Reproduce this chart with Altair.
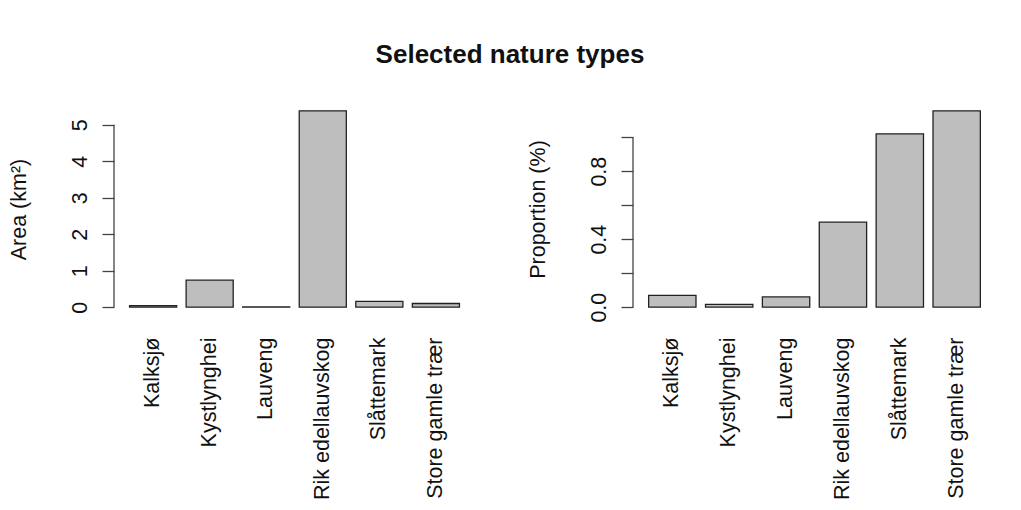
import altair as alt
import pandas as pd

categories = ["Kalksjø", "Kystlynghei", "Lauveng", "Rik edellauvskog", "Slåttemark", "Store gamle trær"]
area_km2 = [0.04, 0.74, 0.005, 5.38, 0.16, 0.10]
proportion_pct = [0.069, 0.016, 0.06, 0.50, 1.02, 1.155]
area_ticks = [0, 1, 2, 3, 4, 5]
prop_ticks = [0.0, 0.2, 0.4, 0.6, 0.8, 1.0]

df_area = pd.DataFrame({"cat": categories, "value": area_km2})
df_prop = pd.DataFrame({"cat": categories, "value": proportion_pct})

FONT = "Liberation Sans"
FS = 21.5
H = 212


def panel(df, width, domain, ticks, ytitle, label_expr, fmt):
    x = alt.X("cat:N", sort=categories, title=None,
              scale=alt.Scale(paddingInner=0.1675, paddingOuter=0.275),
              axis=alt.Axis(labelAngle=270, ticks=False, domain=False, tickSize=0,
                            labelPadding=22, labelFontSize=FS, labelFont=FONT,
                            labelColor="#111", labelAlign="right", labelBaseline="middle"))
    y = alt.Y("value:Q", title=ytitle,
              scale=alt.Scale(domain=domain, nice=False, zero=False),
              axis=alt.Axis(values=ticks, domain=False, grid=False, tickSize=12,
                            tickColor="#444", tickWidth=1.3,
                            labelAngle=270, labelAlign="center", labelBaseline="alphabetic",
                            labelPadding=16, labelFontSize=FS, labelFont=FONT, labelColor="#111",
                            labelExpr=label_expr, format=fmt,
                            titleFont=FONT, titleFontSize=FS, titleFontWeight="normal",
                            titleColor="#111", titleAngle=270, titleBaseline="alphabetic",
                            titleAlign="center", titleX=-89, titleY=H / 2))
    bars = alt.Chart(df).mark_bar(fill="#bebebe", stroke="#222", strokeWidth=1.3).encode(x=x, y=y)
    axis_line = alt.Chart(pd.DataFrame({"lo": [ticks[0]], "hi": [ticks[-1]]})).mark_rule(
        color="#444", strokeWidth=1.3).encode(
        x=alt.value(0),
        y=alt.Y("lo:Q", scale=alt.Scale(domain=domain, nice=False, zero=False)),
        y2="hi:Q")
    return alt.layer(bars, axis_line).properties(width=width, height=H)


left = panel(df_area, 361, [-0.215, 5.595], area_ticks, "Area (km²)", "datum.label", "d")
right = panel(df_prop, 363, [-0.0462, 1.2012], prop_ticks, "Proportion (%)",
              "(abs(datum.value - 0.2) < 0.01 || abs(datum.value - 0.6) < 0.01 || abs(datum.value - 1.0) < 0.01) ? '' : datum.label",
              ".1f")

chart = alt.hconcat(left, right, spacing=158, bounds="flush").properties(
    title=alt.TitleParams("Selected nature types", font=FONT, fontSize=26, fontWeight="bold",
                          color="#111", anchor="middle", offset=35, dx=8),
    padding={"left": 0, "top": 34, "right": 5, "bottom": 5},
    background="white",
).configure_view(stroke=None)

chart.save("out.html", embed_options={"renderer": "svg", "actions": False})
